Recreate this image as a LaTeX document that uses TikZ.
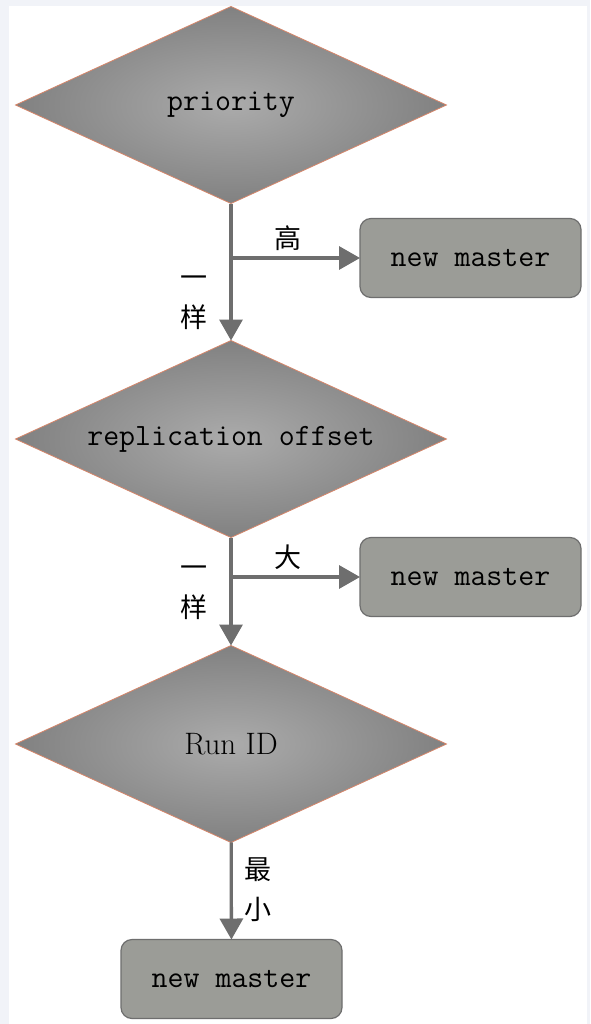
\documentclass[tikz,border=0pt]{standalone}
\usepackage{fontspec}
\usepackage{tikz}
\usetikzlibrary{arrows.meta,shapes.geometric,positioning}
\newfontfamily\cjk{Noto Sans CJK SC}
\definecolor{bgband}{HTML}{F1F3F8}
\definecolor{lineg}{HTML}{6E6E6E}
\definecolor{boxg}{HTML}{9B9C97}
\definecolor{diaedge}{HTML}{D6866A}
\definecolor{diain}{HTML}{ABABAB}
\definecolor{diaout}{HTML}{818181}

\begin{document}
\begin{tikzpicture}
[x=1pt,y=-1pt,>={Triangle[length=21pt,width=23pt]},
 decide/.style={diamond,aspect=2.19,draw=diaedge,line width=0.8pt,inner color=diain,outer color=diaout,
   inner sep=0pt,outer sep=0pt,minimum width=431pt,minimum height=197pt,font=\fontsize{31}{34}\selectfont\ttfamily},
 result/.style={rectangle,rounded corners=11pt,draw=lineg,line width=1.2pt,fill=boxg,
   minimum width=221pt,minimum height=79pt,outer sep=0pt,font=\fontsize{31}{34}\selectfont\ttfamily},
 flow/.style={->,draw=lineg,line width=3.3pt},
 tag/.style={font=\fontsize{27}{40}\selectfont\cjk,align=center,inner sep=0pt}]
            \fill[bgband] (0,0) rectangle (590,1024);
            \fill[white] (9,6) rectangle (587,1024);
            \useasboundingbox (0,0) rectangle (590,1024);
            \node[decide] (1) at (231,105) {priority};
            \node[decide] (2) [below=137pt of 1] {replication offset};
            \node[decide,font=\fontsize{31}{34}\selectfont\rmfamily] (3) [below=108pt of 2] {Run ID};
            \node[result] (4) at (470.5,258) {new master};
            \node[result] (5) at (470.5,577) {new master};
            \node[result] (6) at (231.5,979) {new master};
            \draw[flow] (1) -- (2);
            \draw[flow] (2) -- (3);
            \draw[flow] (3) -- (6);
            \draw[flow] (1.south |- 4.west) -- (4);
            \draw[flow] (2.south |- 5.west) -- (5);
            % labels
            \node[tag] (hi) at (288,238) {高};
            \node[tag] (big) at (288,557) {大};
            \node[tag] (same1) at (194,303) {一\\样};
            \node[tag] (same2) at (194,593) {一\\样};
            \node[tag] (min) at (258,890) {最\\小};
\end{tikzpicture}
\end{document}
